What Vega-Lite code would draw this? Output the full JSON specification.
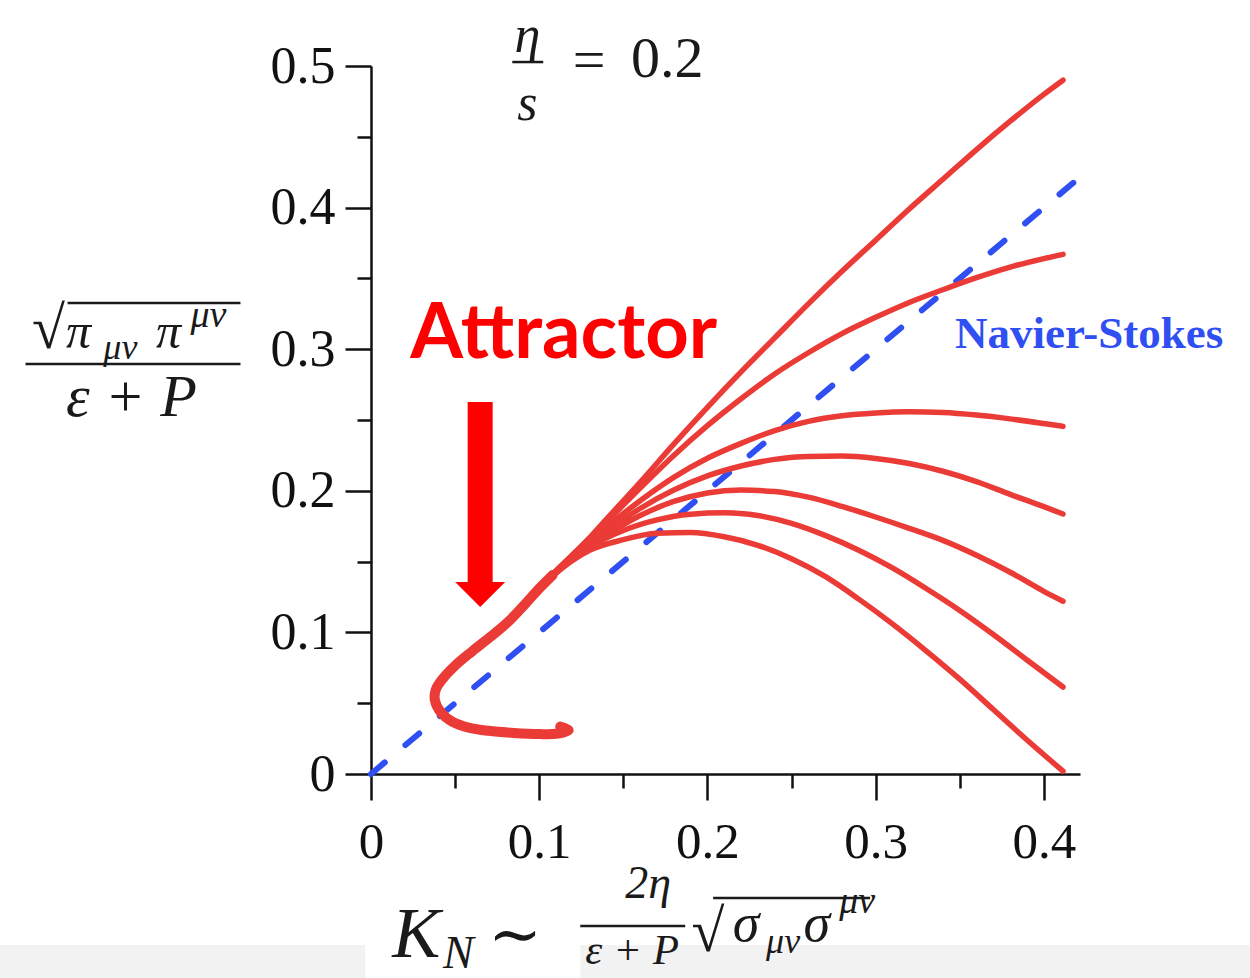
{
  "$schema": "https://vega.github.io/schema/vega-lite/v6.json",
  "width": 709,
  "height": 708,
  "autosize": {"type": "none"},
  "padding": {"left": 371, "top": 66, "right": 170, "bottom": 204},
  "background": "white",
  "config": {"view": {"stroke": null}},
  "encoding": {
    "x": {
      "field": "x", "type": "quantitative",
      "scale": {"domain": [0, 0.4215], "nice": false, "zero": false},
      "axis": {
        "title": null, "grid": false,
        "values": [0, 0.05, 0.1, 0.15, 0.2, 0.25, 0.3, 0.35, 0.4],
        "domainColor": "#111", "domainWidth": 2.5,
        "tickColor": "#111", "tickWidth": 2.5,
        "tickSize": {"condition": {"test": "abs(datum.value*10-round(datum.value*10))<1e-6", "value": 26}, "value": 14},
        "labelExpr": "abs(datum.value*10-round(datum.value*10))<1e-6 ? (datum.value==0 ? '0' : format(datum.value,'.1f')) : ''",
        "labelFont": "Liberation Serif", "labelFontSize": 51, "labelColor": "#111",
        "labelPadding": 17, "labelFlush": false, "labelOverlap": false, "labelBound": false
      }
    },
    "y": {
      "field": "y", "type": "quantitative",
      "scale": {"domain": [0, 0.5], "nice": false, "zero": false},
      "axis": {
        "title": null, "grid": false,
        "values": [0, 0.05, 0.1, 0.15, 0.2, 0.25, 0.3, 0.35, 0.4, 0.45, 0.5],
        "domainColor": "#111", "domainWidth": 2.5,
        "tickColor": "#111", "tickWidth": 2.5,
        "tickSize": {"condition": {"test": "abs(datum.value*10-round(datum.value*10))<1e-6", "value": 26}, "value": 14},
        "labelExpr": "abs(datum.value*10-round(datum.value*10))<1e-6 ? (datum.value==0 ? '0' : format(datum.value,'.1f')) : ''",
        "labelFont": "Liberation Serif", "labelFontSize": 52, "labelColor": "#111",
        "labelPadding": 10, "labelFlush": false, "labelOverlap": false, "labelBound": false
      }
    }
  },
  "layer": [
    {
      "description": "light strip along the bottom edge",
      "data": {"values": [
        {"x": -0.3, "x2": -0.0034, "y": -0.1208, "y2": -0.145},
        {"x": 0.1244, "x2": 0.5225, "y": -0.1208, "y2": -0.145}
      ]},
      "mark": {"type": "rect", "color": "#f2f2f2"},
      "encoding": {"x2": {"field": "x2"}, "y2": {"field": "y2"}}
    },
    {
      "description": "Navier-Stokes first-order line",
      "data": {"values": [{"x": 0, "y": 0}, {"x": 0.4215, "y": 0.4215}]},
      "mark": {"type": "line", "color": "#2f4ff2", "strokeWidth": 6, "strokeDash": [18, 27], "strokeCap": "round"}
    },
    {
      "description": "early-time hook converging onto the attractor",
      "data": {"values": [
        {"i": 0, "x": 0.1125, "y": 0.0335},
        {"i": 1, "x": 0.1175, "y": 0.031},
        {"i": 2, "x": 0.110, "y": 0.0284},
        {"i": 3, "x": 0.100, "y": 0.0282},
        {"i": 4, "x": 0.085, "y": 0.029},
        {"i": 5, "x": 0.070, "y": 0.0305},
        {"i": 6, "x": 0.058, "y": 0.0328},
        {"i": 7, "x": 0.0485, "y": 0.0368},
        {"i": 8, "x": 0.0415, "y": 0.0435},
        {"i": 9, "x": 0.038, "y": 0.052},
        {"i": 10, "x": 0.0385, "y": 0.0595},
        {"i": 11, "x": 0.0425, "y": 0.067},
        {"i": 12, "x": 0.0505, "y": 0.077},
        {"i": 13, "x": 0.060, "y": 0.0865},
        {"i": 14, "x": 0.0709, "y": 0.0968},
        {"i": 15, "x": 0.082, "y": 0.108},
        {"i": 16, "x": 0.092, "y": 0.1205},
        {"i": 17, "x": 0.100, "y": 0.131},
        {"i": 18, "x": 0.108, "y": 0.1405}
      ]},
      "mark": {"type": "line", "color": "#eb3b36", "strokeWidth": 10, "strokeCap": "round", "strokeJoin": "round", "interpolate": "catmull-rom"},
      "encoding": {"order": {"field": "i", "type": "quantitative"}}
    },
    {
      "description": "trajectories fanning out from the attractor",
      "data": {"values": [
        {"c": 1, "x": 0.090, "y": 0.1195}, {"c": 1, "x": 0.100, "y": 0.131}, {"c": 1, "x": 0.11, "y": 0.1435}, {"c": 1, "x": 0.12, "y": 0.155},
        {"c": 1, "x": 0.13, "y": 0.167}, {"c": 1, "x": 0.14, "y": 0.180},
        {"c": 1, "x": 0.16, "y": 0.206}, {"c": 1, "x": 0.18, "y": 0.233}, {"c": 1, "x": 0.20, "y": 0.259}, {"c": 1, "x": 0.22, "y": 0.284},
        {"c": 1, "x": 0.24, "y": 0.308}, {"c": 1, "x": 0.26, "y": 0.332}, {"c": 1, "x": 0.28, "y": 0.355}, {"c": 1, "x": 0.30, "y": 0.377},
        {"c": 1, "x": 0.32, "y": 0.399}, {"c": 1, "x": 0.34, "y": 0.420}, {"c": 1, "x": 0.36, "y": 0.441}, {"c": 1, "x": 0.38, "y": 0.461},
        {"c": 1, "x": 0.40, "y": 0.480}, {"c": 1, "x": 0.4114, "y": 0.490},

        {"c": 2, "x": 0.090, "y": 0.1195}, {"c": 2, "x": 0.100, "y": 0.131}, {"c": 2, "x": 0.11, "y": 0.1433}, {"c": 2, "x": 0.12, "y": 0.1548},
        {"c": 2, "x": 0.13, "y": 0.1665}, {"c": 2, "x": 0.14, "y": 0.178},
        {"c": 2, "x": 0.16, "y": 0.202}, {"c": 2, "x": 0.18, "y": 0.225}, {"c": 2, "x": 0.20, "y": 0.246}, {"c": 2, "x": 0.22, "y": 0.265},
        {"c": 2, "x": 0.24, "y": 0.2825}, {"c": 2, "x": 0.26, "y": 0.2975}, {"c": 2, "x": 0.28, "y": 0.311}, {"c": 2, "x": 0.30, "y": 0.3225},
        {"c": 2, "x": 0.32, "y": 0.333}, {"c": 2, "x": 0.34, "y": 0.342}, {"c": 2, "x": 0.36, "y": 0.3505}, {"c": 2, "x": 0.38, "y": 0.358},
        {"c": 2, "x": 0.40, "y": 0.364}, {"c": 2, "x": 0.4114, "y": 0.367},

        {"c": 3, "x": 0.090, "y": 0.1195}, {"c": 3, "x": 0.100, "y": 0.131}, {"c": 3, "x": 0.11, "y": 0.143}, {"c": 3, "x": 0.12, "y": 0.1543},
        {"c": 3, "x": 0.13, "y": 0.165}, {"c": 3, "x": 0.14, "y": 0.1745},
        {"c": 3, "x": 0.16, "y": 0.193}, {"c": 3, "x": 0.18, "y": 0.2095}, {"c": 3, "x": 0.20, "y": 0.223}, {"c": 3, "x": 0.22, "y": 0.2335},
        {"c": 3, "x": 0.24, "y": 0.2425}, {"c": 3, "x": 0.26, "y": 0.249}, {"c": 3, "x": 0.28, "y": 0.253}, {"c": 3, "x": 0.30, "y": 0.255},
        {"c": 3, "x": 0.32, "y": 0.2558}, {"c": 3, "x": 0.34, "y": 0.2553}, {"c": 3, "x": 0.36, "y": 0.2535}, {"c": 3, "x": 0.38, "y": 0.2508},
        {"c": 3, "x": 0.40, "y": 0.2475}, {"c": 3, "x": 0.4114, "y": 0.2455},

        {"c": 4, "x": 0.090, "y": 0.1195}, {"c": 4, "x": 0.100, "y": 0.131}, {"c": 4, "x": 0.11, "y": 0.1428}, {"c": 4, "x": 0.12, "y": 0.1536},
        {"c": 4, "x": 0.13, "y": 0.1633}, {"c": 4, "x": 0.14, "y": 0.1715},
        {"c": 4, "x": 0.16, "y": 0.1875}, {"c": 4, "x": 0.18, "y": 0.2005}, {"c": 4, "x": 0.20, "y": 0.2105}, {"c": 4, "x": 0.22, "y": 0.2175},
        {"c": 4, "x": 0.24, "y": 0.2222}, {"c": 4, "x": 0.26, "y": 0.2243}, {"c": 4, "x": 0.28, "y": 0.2245}, {"c": 4, "x": 0.30, "y": 0.2228},
        {"c": 4, "x": 0.32, "y": 0.2193}, {"c": 4, "x": 0.34, "y": 0.2138}, {"c": 4, "x": 0.36, "y": 0.2065}, {"c": 4, "x": 0.38, "y": 0.1975},
        {"c": 4, "x": 0.40, "y": 0.1888}, {"c": 4, "x": 0.4114, "y": 0.1836},

        {"c": 5, "x": 0.090, "y": 0.1195}, {"c": 5, "x": 0.100, "y": 0.131}, {"c": 5, "x": 0.11, "y": 0.1425}, {"c": 5, "x": 0.12, "y": 0.1528},
        {"c": 5, "x": 0.13, "y": 0.1618}, {"c": 5, "x": 0.14, "y": 0.169},
        {"c": 5, "x": 0.16, "y": 0.1825}, {"c": 5, "x": 0.18, "y": 0.1925}, {"c": 5, "x": 0.20, "y": 0.1985}, {"c": 5, "x": 0.22, "y": 0.2005},
        {"c": 5, "x": 0.24, "y": 0.1995}, {"c": 5, "x": 0.26, "y": 0.1955}, {"c": 5, "x": 0.28, "y": 0.189}, {"c": 5, "x": 0.30, "y": 0.1815},
        {"c": 5, "x": 0.32, "y": 0.1735}, {"c": 5, "x": 0.34, "y": 0.165}, {"c": 5, "x": 0.36, "y": 0.1545}, {"c": 5, "x": 0.38, "y": 0.1425},
        {"c": 5, "x": 0.40, "y": 0.129}, {"c": 5, "x": 0.4114, "y": 0.122},

        {"c": 6, "x": 0.090, "y": 0.1195}, {"c": 6, "x": 0.100, "y": 0.131}, {"c": 6, "x": 0.11, "y": 0.1422}, {"c": 6, "x": 0.12, "y": 0.152},
        {"c": 6, "x": 0.13, "y": 0.1603}, {"c": 6, "x": 0.15, "y": 0.172},
        {"c": 6, "x": 0.17, "y": 0.1795}, {"c": 6, "x": 0.19, "y": 0.1835}, {"c": 6, "x": 0.21, "y": 0.1845}, {"c": 6, "x": 0.23, "y": 0.1825},
        {"c": 6, "x": 0.25, "y": 0.177}, {"c": 6, "x": 0.27, "y": 0.1685}, {"c": 6, "x": 0.29, "y": 0.158}, {"c": 6, "x": 0.31, "y": 0.1455},
        {"c": 6, "x": 0.33, "y": 0.131}, {"c": 6, "x": 0.35, "y": 0.1155}, {"c": 6, "x": 0.37, "y": 0.0985}, {"c": 6, "x": 0.39, "y": 0.0805},
        {"c": 6, "x": 0.4114, "y": 0.0614},

        {"c": 7, "x": 0.090, "y": 0.1195}, {"c": 7, "x": 0.100, "y": 0.131}, {"c": 7, "x": 0.11, "y": 0.1418}, {"c": 7, "x": 0.12, "y": 0.151},
        {"c": 7, "x": 0.13, "y": 0.158}, {"c": 7, "x": 0.15, "y": 0.1655},
        {"c": 7, "x": 0.17, "y": 0.170}, {"c": 7, "x": 0.19, "y": 0.1705}, {"c": 7, "x": 0.21, "y": 0.1675}, {"c": 7, "x": 0.23, "y": 0.1615},
        {"c": 7, "x": 0.25, "y": 0.152}, {"c": 7, "x": 0.27, "y": 0.1395}, {"c": 7, "x": 0.29, "y": 0.1235}, {"c": 7, "x": 0.31, "y": 0.106},
        {"c": 7, "x": 0.33, "y": 0.087}, {"c": 7, "x": 0.35, "y": 0.067}, {"c": 7, "x": 0.37, "y": 0.0455}, {"c": 7, "x": 0.39, "y": 0.024},
        {"c": 7, "x": 0.4114, "y": 0.002}
      ]},
      "mark": {"type": "line", "color": "#eb3b36", "strokeWidth": 5.5, "strokeCap": "round", "interpolate": "monotone"},
      "encoding": {"detail": {"field": "c", "type": "nominal"}}
    },
    {
      "description": "arrow shaft",
      "data": {"values": [{"x": 0.0649, "y": 0.2627, "y2": 0.1356}]},
      "mark": {"type": "rule", "color": "#ff0000", "strokeWidth": 25, "strokeCap": "butt"},
      "encoding": {"y2": {"field": "y2"}}
    },
    {
      "description": "arrow head",
      "data": {"values": [{"x": 0.0649, "y": 0.1268}]},
      "mark": {"type": "point", "shape": "M-1,-0.5L1,-0.5L0,0.5Z", "size": 2500, "filled": true, "color": "#ff0000", "opacity": 1, "strokeWidth": 0}
    },
    {
      "data": {"values": [{"x": 0.1146, "y": 0.2938, "t": "Attractor"}]},
      "mark": {"type": "text", "font": "Lato", "fontWeight": "bold", "fontSize": 76, "color": "#ff0000", "align": "center", "baseline": "alphabetic"},
      "encoding": {"text": {"field": "t"}}
    },
    {
      "data": {"values": [{"x": 0.3472, "y": 0.3008, "t": "Navier-Stokes"}]},
      "mark": {"type": "text", "font": "Liberation Serif", "fontWeight": "bold", "fontSize": 45, "color": "#2f4ff2", "align": "left", "baseline": "alphabetic"},
      "encoding": {"text": {"field": "t"}}
    },
    {
      "description": "fraction bars and radical overlines of the axis titles",
      "data": {"values": [
        {"x": -0.1804, "x2": -0.0776, "y": 0.3326},
        {"x": -0.2054, "x2": -0.0776, "y": 0.2895},
        {"x": 0.1244, "x2": 0.1868, "y": -0.1073},
        {"x": 0.2034, "x2": 0.2967, "y": -0.0876},
        {"x": 0.0840, "x2": 0.1024, "y": 0.5028}
      ]},
      "mark": {"type": "rule", "color": "#1a1a1a", "strokeWidth": 2.5},
      "encoding": {"x2": {"field": "x2"}}
    },
    {
      "description": "radical signs",
      "data": {"values": [{"x": -0.1917, "y": 0.3136, "t": "√"}, {"x": 0.2004, "y": -0.1123, "t": "√"}]},
      "mark": {"type": "text", "font": "Liberation Serif", "fontSize": 60, "color": "#1a1a1a", "align": "center", "baseline": "middle"},
      "encoding": {"text": {"field": "t"}}
    },
    {
      "description": "pi symbols",
      "data": {"values": [{"x": -0.1739, "y": 0.3114, "t": "π"}, {"x": -0.1204, "y": 0.3114, "t": "π"}]},
      "mark": {"type": "text", "font": "Liberation Serif", "fontStyle": "italic", "fontSize": 50, "color": "#1a1a1a", "align": "center", "baseline": "middle"},
      "encoding": {"text": {"field": "t"}}
    },
    {
      "description": "sigma symbols",
      "data": {"values": [{"x": 0.2230, "y": -0.1066, "t": "σ"}, {"x": 0.2650, "y": -0.1066, "t": "σ"}]},
      "mark": {"type": "text", "font": "Liberation Serif", "fontStyle": "italic", "fontSize": 54, "color": "#1a1a1a", "align": "center", "baseline": "middle"},
      "encoding": {"text": {"field": "t"}}
    },
    {
      "description": "lower tensor indices",
      "data": {"values": [
        {"x": -0.149, "y": 0.3008, "t": "μν"},
        {"x": 0.2450, "y": -0.1186, "t": "μν"}
      ]},
      "mark": {"type": "text", "font": "Liberation Serif", "fontStyle": "italic", "fontSize": 36, "color": "#1a1a1a", "align": "center", "baseline": "middle"},
      "encoding": {"text": {"field": "t"}}
    },
    {
      "description": "upper tensor indices",
      "data": {"values": [
        {"x": -0.0966, "y": 0.3234, "t": "μν"},
        {"x": 0.2890, "y": -0.0905, "t": "μν"}
      ]},
      "mark": {"type": "text", "font": "Liberation Serif", "fontStyle": "italic", "fontSize": 38, "color": "#1a1a1a", "align": "center", "baseline": "middle"},
      "encoding": {"text": {"field": "t"}}
    },
    {
      "data": {"values": [{"x": -0.1424, "y": 0.2655, "t": "ε + P"}]},
      "mark": {"type": "text", "font": "Liberation Serif", "fontStyle": "italic", "fontSize": 60, "color": "#1a1a1a", "align": "center", "baseline": "middle"},
      "encoding": {"text": {"field": "t"}}
    },
    {
      "data": {"values": [{"x": 0.0269, "y": -0.1137, "t": "K"}]},
      "mark": {"type": "text", "font": "Liberation Serif", "fontStyle": "italic", "fontSize": 72, "color": "#1a1a1a", "align": "center", "baseline": "middle"},
      "encoding": {"text": {"field": "t"}}
    },
    {
      "data": {"values": [{"x": 0.0519, "y": -0.1271, "t": "N"}]},
      "mark": {"type": "text", "font": "Liberation Serif", "fontStyle": "italic", "fontSize": 46, "color": "#1a1a1a", "align": "center", "baseline": "middle"},
      "encoding": {"text": {"field": "t"}}
    },
    {
      "data": {"values": [{"x": 0.0857, "y": -0.1151, "t": "∼"}]},
      "mark": {"type": "text", "font": "DejaVu Serif", "fontSize": 64, "color": "#1a1a1a", "align": "center", "baseline": "middle"},
      "encoding": {"text": {"field": "t"}}
    },
    {
      "data": {"values": [{"x": 0.1648, "y": -0.0777, "t": "2η"}]},
      "mark": {"type": "text", "font": "Liberation Serif", "fontStyle": "italic", "fontSize": 46, "color": "#1a1a1a", "align": "center", "baseline": "middle"},
      "encoding": {"text": {"field": "t"}}
    },
    {
      "data": {"values": [{"x": 0.1553, "y": -0.1248, "t": "ε + P"}]},
      "mark": {"type": "text", "font": "Liberation Serif", "fontStyle": "italic", "fontSize": 43, "color": "#1a1a1a", "align": "center", "baseline": "middle"},
      "encoding": {"text": {"field": "t"}}
    },
    {
      "data": {"values": [{"x": 0.0929, "y": 0.5212, "t": "η"}, {"x": 0.0929, "y": 0.4732, "t": "s"}]},
      "mark": {"type": "text", "font": "Liberation Serif", "fontStyle": "italic", "fontSize": 52, "color": "#1a1a1a", "align": "center", "baseline": "middle"},
      "encoding": {"text": {"field": "t"}}
    },
    {
      "data": {"values": [{"x": 0.1297, "y": 0.5028, "t": "="}, {"x": 0.1761, "y": 0.5042, "t": "0.2"}]},
      "mark": {"type": "text", "font": "Liberation Serif", "fontSize": 58, "color": "#1a1a1a", "align": "center", "baseline": "middle"},
      "encoding": {"text": {"field": "t"}}
    }
  ]
}
